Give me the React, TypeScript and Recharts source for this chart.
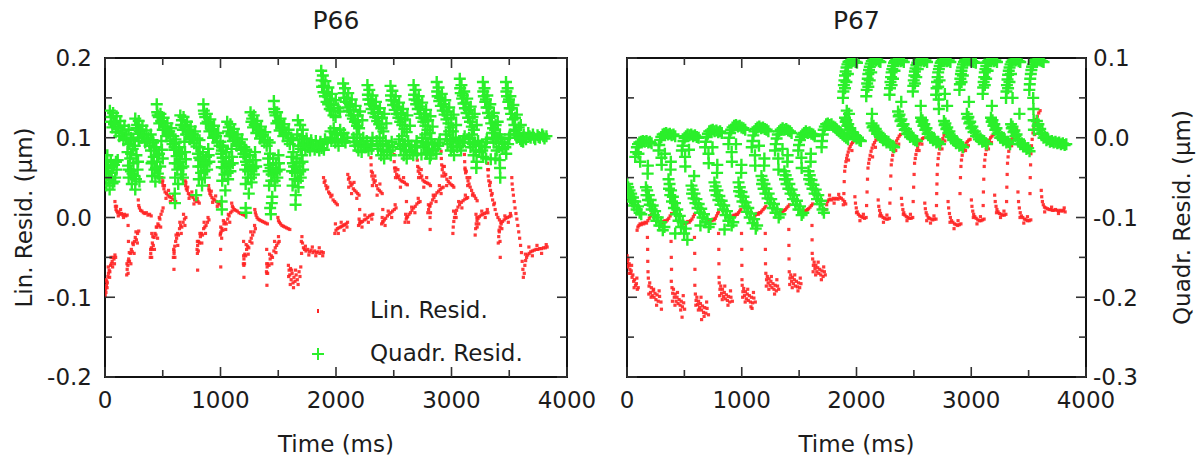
import React from "react";
import { ScatterChart, Scatter, XAxis, YAxis, ReferenceArea, Label } from "recharts";

type Pt = [number, number];

// axis ticks (minor every 500 ms / 0.05 um, labels on the majors)
const TIME_TICKS = [0, 500, 1000, 1500, 2000, 2500, 3000, 3500, 4000];
const LIN_TICKS = [-0.2, -0.15, -0.1, -0.05, 0, 0.05, 0.1, 0.15, 0.2];
const QUAD_TICKS = [-0.3, -0.25, -0.2, -0.15, -0.1, -0.05, 0, 0.05, 0.1];

// P66, linear fit residuals (red dots)
const P66_LIN: Pt[] = [
  [2,-0.098],[5,-0.09],[8,-0.094],[12,-0.085],[15,-0.08],[20,-0.082],[25,-0.074],[30,-0.07],[36,-0.066],[42,-0.068],[48,-0.06],[55,-0.058],[62,-0.055],[70,-0.05],[78,-0.052],[86,-0.047],[92,-0.05],
  [4,-0.088],[10,-0.078],[18,-0.088],[28,-0.062],[40,-0.075],[52,-0.05],[66,-0.062],[82,-0.058],
  [86,0.02],[90,0.014],[95,0.01],[102,0.008],[110,0.006],[120,0.007],[130,0.004],[142,0.005],[155,0.003],[168,0.004],[180,0.002],[192,0.003],
  [100,0.014],[115,0.002],[135,0.01],[160,0.0],
  [200,-0.01],[203,-0.03],[201,-0.055],
  [188,-0.072],[192,-0.065],[198,-0.06],[205,-0.052],[212,-0.055],[220,-0.045],[228,-0.04],[236,-0.043],[245,-0.034],[255,-0.03],[262,-0.025],[272,-0.028],[282,-0.02],[292,-0.017],
  [190,-0.058],[200,-0.07],[210,-0.044],[224,-0.058],[240,-0.032],[252,-0.045],[268,-0.018],[280,-0.032],
  [288,0.022],[292,0.015],[298,0.012],[308,0.009],[320,0.008],[332,0.006],[345,0.005],[358,0.006],[372,0.003],[386,0.004],[400,0.002],
  [405,-0.02],[407,-0.04],
  [392,-0.05],[396,-0.045],[402,-0.038],[410,-0.032],[418,-0.035],[425,-0.025],[433,-0.02],[441,-0.022],[450,-0.012],[458,-0.008],[466,-0.01],[475,-0.002],[485,0.004],[495,0.008],[503,0.012],
  [395,-0.04],[404,-0.05],[414,-0.024],[428,-0.04],[444,-0.012],[455,-0.026],[470,0.0],[482,-0.012],
  [492,0.05],[496,0.044],[502,0.04],[510,0.036],[520,0.032],[532,0.03],[545,0.028],[558,0.026],[572,0.025],[588,0.023],[602,0.022],[612,0.02],
  [500,0.046],[515,0.04],[528,0.024],[550,0.034],[566,0.02],[595,0.028],
  [598,-0.045],[597,-0.065],
  [592,-0.05],[598,-0.042],[604,-0.036],[612,-0.03],[620,-0.026],[628,-0.02],[636,-0.022],[645,-0.014],[655,-0.01],[665,-0.012],[676,-0.006],[688,-0.002],[700,0.0],
  [595,-0.04],[605,-0.05],[615,-0.022],[630,-0.035],[648,-0.006],[660,-0.02],[680,0.004],[692,-0.01],
  [694,0.046],[698,0.04],[704,0.036],[712,0.034],[722,0.03],[735,0.028],[748,0.027],[762,0.025],[776,0.022],[790,0.02],[805,0.02],[816,0.018],
  [700,0.044],[716,0.038],[728,0.024],[752,0.032],[770,0.017],[798,0.024],
  [800,-0.045],[802,-0.066],
  [797,-0.04],[802,-0.035],[810,-0.03],[818,-0.032],[826,-0.024],[835,-0.02],[844,-0.022],[854,-0.014],[864,-0.012],[875,-0.01],[887,-0.006],[900,-0.003],
  [800,-0.03],[808,-0.042],[822,-0.02],[838,-0.032],[858,-0.006],[870,-0.02],[892,0.0],
  [897,0.04],[902,0.034],[908,0.03],[916,0.028],[926,0.025],[938,0.023],[950,0.022],[964,0.02],[978,0.018],[992,0.017],[1006,0.015],
  [900,0.036],[920,0.033],[932,0.019],[958,0.027],[972,0.014],[1000,0.02],
  [1000,-0.02],[1001,-0.04],[1002,-0.062],
  [998,-0.022],[1005,-0.018],[1012,-0.014],[1020,-0.016],[1030,-0.008],[1040,-0.006],[1050,-0.008],[1062,-0.002],[1075,0.002],[1088,0.006],[1100,0.008],
  [1002,-0.012],[1010,-0.026],[1025,-0.004],[1045,-0.015],[1068,0.004],[1080,-0.006],
  [1097,0.018],[1103,0.014],[1110,0.012],[1120,0.01],[1132,0.009],[1145,0.008],[1160,0.006],[1175,0.005],[1190,0.004],[1205,0.003],[1218,0.002],
  [1200,-0.03],[1202,-0.06],[1203,-0.075],
  [1198,-0.058],[1203,-0.052],[1210,-0.046],[1218,-0.048],[1226,-0.04],[1235,-0.036],[1245,-0.038],[1255,-0.03],[1266,-0.026],[1278,-0.022],[1290,-0.018],[1302,-0.014],
  [1200,-0.048],[1208,-0.058],[1222,-0.034],[1240,-0.046],[1262,-0.018],[1272,-0.032],[1295,-0.01],
  [1297,0.01],[1302,0.006],[1308,0.003],[1316,0.0],[1326,-0.002],[1338,-0.003],[1350,-0.004],[1364,-0.005],[1378,-0.006],[1392,-0.007],[1406,-0.008],
  [1400,-0.04],[1401,-0.07],[1402,-0.085],
  [1398,-0.068],[1404,-0.062],[1411,-0.058],[1420,-0.06],[1430,-0.052],[1440,-0.048],[1450,-0.05],[1462,-0.042],[1474,-0.038],[1486,-0.035],[1498,-0.032],[1508,-0.03],
  [1400,-0.058],[1408,-0.07],[1425,-0.046],[1444,-0.058],[1468,-0.03],[1480,-0.044],[1502,-0.024],
  [1497,0.0],[1502,-0.004],[1510,-0.006],[1520,-0.008],[1532,-0.01],[1545,-0.011],[1558,-0.012],[1572,-0.013],[1586,-0.014],[1600,-0.015],
  [1588,-0.06],[1594,-0.066],[1600,-0.072],[1606,-0.064],[1612,-0.078],[1620,-0.07],[1628,-0.082],[1636,-0.075],[1645,-0.08],[1655,-0.072],[1665,-0.078],[1680,-0.068],[1695,-0.062],
  [1590,-0.074],[1604,-0.084],[1616,-0.066],[1632,-0.088],[1650,-0.066],[1672,-0.084],[1688,-0.074],
  [1700,-0.03],[1702,-0.045],
  [1705,-0.024],[1710,-0.032],[1718,-0.038],[1728,-0.04],[1740,-0.042],[1755,-0.04],[1770,-0.043],[1785,-0.041],[1800,-0.044],[1815,-0.042],[1830,-0.044],[1845,-0.043],[1860,-0.045],[1875,-0.043],[1890,-0.044],
  [1735,-0.036],[1765,-0.047],[1795,-0.037],[1825,-0.048],[1855,-0.038],[1885,-0.048],
  [1892,0.05],[1898,0.044],[1905,0.046],[1912,0.04],[1920,0.036],[1928,0.038],[1936,0.032],[1945,0.03],[1955,0.026],[1965,0.028],[1975,0.022],[1988,0.02],[2000,0.018],[2012,0.016],
  [1990,-0.02],[2000,-0.016],[2012,-0.014],[2025,-0.013],[2038,-0.012],[2050,-0.011],[2062,-0.01],[2075,-0.009],[2088,-0.008],[2100,-0.006],
  [1995,-0.008],[2020,-0.02],[2045,-0.006],[2070,-0.016],[2095,-0.012],
  [2102,0.054],[2108,0.048],[2115,0.05],[2122,0.044],[2130,0.04],[2140,0.042],[2150,0.036],[2162,0.034],[2175,0.032],[2188,0.03],[2200,0.028],
  [2110,0.038],[2135,0.03],[2156,0.044],[2180,0.024],
  [2205,0.01],[2207,-0.005],
  [2195,-0.01],[2205,-0.008],[2218,-0.006],[2230,-0.005],[2245,-0.003],[2260,-0.002],[2275,0.0],[2290,0.002],[2305,0.003],[2318,0.004],
  [2200,-0.002],[2225,-0.012],[2250,0.003],[2280,-0.006],[2310,-0.002],
  [2302,0.075],[2304,0.066],[2306,0.058],[2310,0.052],[2316,0.056],[2322,0.048],[2330,0.044],[2340,0.046],[2350,0.04],[2362,0.036],[2375,0.034],[2388,0.032],[2400,0.03],
  [2315,0.04],[2336,0.052],[2356,0.028],[2380,0.042],
  [2405,0.01],[2406,-0.005],
  [2395,-0.008],[2405,-0.006],[2418,-0.003],[2430,-0.001],[2445,0.002],[2460,0.004],[2475,0.006],[2490,0.008],[2505,0.01],[2520,0.012],
  [2400,0.0],[2425,-0.01],[2452,0.008],[2482,0.0],[2512,0.016],
  [2502,0.079],[2504,0.07],[2507,0.062],[2512,0.058],[2518,0.062],[2525,0.054],[2533,0.05],[2542,0.052],[2552,0.048],[2564,0.046],[2578,0.045],[2592,0.044],[2606,0.042],[2618,0.041],
  [2515,0.05],[2536,0.06],[2558,0.038],[2585,0.05],
  [2610,0.02],[2612,0.0],
  [2598,-0.006],[2608,-0.002],[2620,0.001],[2632,0.004],[2645,0.006],[2658,0.009],[2672,0.012],[2686,0.014],[2700,0.017],[2715,0.019],[2728,0.02],
  [2603,0.004],[2628,-0.006],[2655,0.013],[2683,0.006],[2712,0.024],
  [2702,0.08],[2704,0.072],[2707,0.064],[2712,0.058],[2718,0.062],[2725,0.055],[2733,0.05],[2742,0.052],[2752,0.047],[2764,0.045],[2778,0.044],[2792,0.043],[2806,0.042],[2818,0.04],
  [2715,0.05],[2738,0.06],[2760,0.038],[2785,0.05],
  [2812,0.015],[2814,0.0],[2815,-0.015],
  [2795,0.006],[2802,0.01],[2812,0.014],[2824,0.018],[2836,0.022],[2848,0.025],[2860,0.028],[2874,0.031],[2888,0.033],[2902,0.035],[2916,0.037],[2928,0.038],
  [2800,0.016],[2818,0.006],[2842,0.028],[2866,0.02],[2895,0.04],[2910,0.03],
  [2910,0.083],[2912,0.074],[2915,0.066],[2920,0.06],[2926,0.064],[2933,0.056],[2941,0.052],[2950,0.054],[2960,0.048],[2972,0.045],[2985,0.043],[2998,0.041],[3010,0.04],[3020,0.038],
  [2918,0.052],[2938,0.064],[2958,0.04],[2990,0.05],
  [3012,-0.02],[3015,-0.012],[3020,-0.005],[3026,0.0],[3034,0.005],[3044,0.009],[3056,0.013],[3070,0.016],[3085,0.019],[3100,0.021],[3115,0.023],[3130,0.024],[3140,0.025],
  [3018,0.008],[3040,0.0],[3062,0.02],[3090,0.012],[3120,0.028],
  [3112,0.079],[3114,0.07],[3117,0.062],[3122,0.056],[3128,0.058],[3135,0.05],[3143,0.046],[3152,0.042],[3162,0.038],[3174,0.034],[3186,0.03],[3198,0.027],[3210,0.024],[3222,0.021],
  [3118,0.06],[3140,0.04],[3158,0.05],[3182,0.028],
  [3220,0.0],[3222,-0.012],
  [3205,-0.022],[3209,-0.014],[3214,-0.008],[3221,-0.004],[3230,-0.001],[3242,0.001],[3256,0.003],[3270,0.004],[3285,0.005],[3300,0.006],[3315,0.006],
  [3212,0.004],[3236,-0.008],[3262,0.008],[3292,0.0],[3310,0.01],
  [3312,0.068],[3314,0.06],[3318,0.052],[3323,0.046],[3330,0.04],[3338,0.034],[3346,0.028],[3356,0.022],[3366,0.016],[3378,0.01],[3390,0.004],[3402,0.0],[3415,-0.003],[3428,-0.006],
  [3320,0.06],[3336,0.044],[3352,0.03],[3372,0.018],
  [3420,-0.03],[3422,-0.05],
  [3405,-0.032],[3409,-0.024],[3414,-0.018],[3421,-0.012],[3430,-0.008],[3442,-0.005],[3456,-0.003],[3470,-0.001],[3485,0.0],[3500,0.001],[3515,0.002],
  [3412,-0.016],[3436,-0.014],[3462,0.002],[3492,-0.006],[3510,0.005],
  [3522,0.05],[3525,0.042],[3530,0.035],[3536,0.028],[3543,0.02],[3550,0.012],[3558,0.005],[3566,-0.002],[3574,-0.01],[3582,-0.018],[3590,-0.026],[3598,-0.035],[3606,-0.044],[3612,-0.055],[3618,-0.065],[3622,-0.075],
  [3630,-0.07],[3635,-0.06],[3642,-0.054],[3650,-0.05],[3660,-0.047],[3672,-0.045],[3686,-0.043],[3700,-0.042],[3716,-0.041],[3732,-0.04],[3748,-0.04],[3764,-0.039],[3780,-0.039],[3796,-0.038],[3812,-0.038],[3828,-0.037],
  [3640,-0.046],[3670,-0.037],[3700,-0.048],[3740,-0.035],[3780,-0.045],[3820,-0.034],
];

// P66, quadratic fit residuals (green crosses)
const P66_QUAD: Pt[] = [
  [42,0.134],[58,0.126],[70,0.131],[86,0.12],[100,0.127],[116,0.114],[132,0.121],[150,0.109],[168,0.115],[186,0.104],[205,0.11],[225,0.1],[245,0.097],
  [50,0.12],[64,0.113],[78,0.117],[92,0.107],[108,0.112],[124,0.102],[142,0.106],[160,0.097],[180,0.1],[200,0.092],
  [262,0.124],[278,0.116],[292,0.121],[308,0.11],[324,0.115],[340,0.104],[358,0.109],[376,0.1],[396,0.104],[412,0.097],
  [270,0.112],[286,0.105],[300,0.108],[316,0.1],[332,0.103],[348,0.094],[366,0.097],[386,0.09],
  [448,0.142],[452,0.132],[466,0.126],[480,0.13],[494,0.12],[508,0.125],[524,0.114],[540,0.118],[556,0.108],[574,0.112],[592,0.102],[610,0.098],
  [456,0.128],[470,0.118],[486,0.121],[500,0.11],[516,0.113],[532,0.102],[548,0.105],[566,0.096],[584,0.092],[602,0.088],
  [652,0.128],[666,0.122],[680,0.126],[694,0.116],[710,0.12],[726,0.11],[742,0.114],[760,0.104],[780,0.108],[800,0.099],[818,0.097],
  [660,0.116],[674,0.11],[688,0.113],[702,0.104],[718,0.107],[734,0.098],[752,0.1],[772,0.093],[792,0.089],
  [852,0.142],[856,0.134],[868,0.126],[882,0.13],[896,0.118],[912,0.123],[928,0.11],[944,0.115],[962,0.102],[980,0.106],[1000,0.095],[1020,0.09],
  [860,0.13],[874,0.118],[888,0.12],[904,0.108],[920,0.111],[936,0.1],[954,0.103],[972,0.094],[992,0.09],[1012,0.084],
  [1058,0.12],[1072,0.113],[1086,0.117],[1100,0.107],[1116,0.111],[1132,0.1],[1148,0.104],[1166,0.094],[1186,0.098],[1206,0.088],[1222,0.085],
  [1066,0.108],[1080,0.102],[1094,0.105],[1108,0.096],[1124,0.099],[1140,0.09],[1158,0.092],[1178,0.085],[1198,0.08],
  [1260,0.132],[1274,0.124],[1288,0.128],[1302,0.117],[1318,0.121],[1334,0.11],[1350,0.114],[1368,0.104],[1388,0.107],[1408,0.097],[1426,0.094],
  [1268,0.12],[1282,0.113],[1296,0.116],[1310,0.106],[1326,0.109],[1342,0.099],[1360,0.102],[1380,0.094],[1400,0.09],
  [1462,0.146],[1465,0.136],[1476,0.128],[1490,0.132],[1504,0.12],[1520,0.124],[1536,0.113],[1552,0.117],[1570,0.106],[1590,0.11],[1610,0.1],[1628,0.097],
  [1470,0.132],[1484,0.118],[1498,0.121],[1512,0.109],[1528,0.112],[1544,0.102],[1562,0.105],[1580,0.096],[1600,0.092],
  [1670,0.122],[1690,0.116],[1712,0.11],
  [1665,0.104],[1685,0.098],[1705,0.102],[1725,0.094],[1745,0.099],[1765,0.092],[1785,0.097],[1805,0.091],[1825,0.096],[1845,0.09],[1865,0.095],[1885,0.092],[1905,0.098],[1925,0.094],
  [1675,0.09],[1695,0.086],[1715,0.091],[1735,0.085],[1755,0.088],[1775,0.084],[1795,0.089],[1815,0.085],[1835,0.088],[1855,0.084],[1875,0.087],[1895,0.085],
  [3,0.07],[8,0.055],[12,0.04],[20,0.078],[26,0.062],[32,0.047],[40,0.035],[50,0.072],[58,0.056],[66,0.043],[78,0.066],[88,0.05],[100,0.06],[110,0.072],
  [15,0.065],[30,0.058],[45,0.05],[62,0.064],[80,0.045],[95,0.07],
  [195,0.082],[200,0.065],[205,0.05],[212,0.092],[218,0.074],[224,0.058],[232,0.042],[240,0.086],[246,0.068],[254,0.052],[262,0.035],[272,0.078],[282,0.06],[292,0.096],[298,0.045],
  [208,0.06],[226,0.08],[238,0.055],[258,0.09],[268,0.048],[286,0.07],
  [398,0.084],[403,0.068],[408,0.052],[416,0.094],[422,0.076],[428,0.06],[436,0.045],[444,0.088],[450,0.07],[458,0.055],[468,0.08],[478,0.064],[488,0.096],[500,0.074],
  [411,0.07],[426,0.088],[441,0.062],[460,0.078],[472,0.05],[493,0.085],
  [600,0.085],[604,0.068],[608,0.05],[614,0.094],[620,0.077],[626,0.06],[634,0.042],[642,0.088],[650,0.07],[658,0.054],[668,0.082],[678,0.064],[688,0.095],[700,0.073],[604,0.03],[606,0.018],
  [616,0.085],[630,0.068],[645,0.08],[662,0.062],[675,0.05],[693,0.082],
  [804,0.08],[808,0.064],[812,0.048],[820,0.088],[826,0.072],[832,0.056],[840,0.04],[848,0.082],[856,0.066],[864,0.05],[874,0.076],[884,0.06],[894,0.086],[904,0.07],[790,0.028],
  [816,0.075],[834,0.064],[846,0.072],[860,0.058],[878,0.068],[898,0.078],
  [1007,0.08],[1011,0.063],[1015,0.046],[1022,0.088],[1028,0.07],[1034,0.054],[1042,0.034],[1050,0.082],[1058,0.064],[1066,0.048],[1076,0.076],[1086,0.058],[1096,0.086],[1106,0.068],[1010,0.02],[1012,0.01],
  [1018,0.075],[1036,0.062],[1048,0.07],[1062,0.056],[1080,0.066],[1100,0.076],
  [1210,0.076],[1214,0.06],[1218,0.042],[1225,0.083],[1231,0.066],[1237,0.05],[1245,0.03],[1253,0.078],[1261,0.06],[1269,0.044],[1279,0.072],[1289,0.054],[1299,0.082],[1309,0.064],[1218,0.012],[1222,0.006],
  [1221,0.07],[1240,0.058],[1250,0.066],[1264,0.05],[1283,0.062],[1303,0.072],
  [1413,0.074],[1417,0.058],[1421,0.04],[1428,0.08],[1434,0.062],[1440,0.046],[1448,0.026],[1456,0.074],[1464,0.056],[1472,0.04],[1482,0.068],[1492,0.05],[1502,0.078],[1512,0.06],[1430,0.012],[1436,0.004],[1444,0.018],
  [1424,0.066],[1443,0.054],[1452,0.062],[1468,0.046],[1486,0.058],[1506,0.068],
  [1616,0.076],[1620,0.058],[1624,0.04],[1631,0.082],[1637,0.064],[1643,0.048],[1651,0.028],[1659,0.074],[1667,0.056],[1675,0.038],[1685,0.068],[1695,0.05],[1705,0.078],[1715,0.06],[1650,0.016],
  [1627,0.068],[1646,0.056],[1655,0.064],[1670,0.046],[1690,0.058],[1710,0.07],
  [1872,0.184],[1876,0.172],[1886,0.178],[1896,0.165],[1908,0.171],[1920,0.157],[1934,0.163],[1948,0.149],[1964,0.155],[1980,0.141],[1998,0.147],[2016,0.137],[2034,0.133],
  [1880,0.164],[1892,0.157],[1904,0.152],[1918,0.145],[1932,0.142],[1946,0.136],[1962,0.134],[1978,0.128],[1996,0.126],
  [2062,0.168],[2066,0.156],[2078,0.162],[2092,0.15],[2106,0.156],[2120,0.142],[2136,0.148],[2152,0.135],[2170,0.14],[2188,0.128],[2208,0.133],[2228,0.122],
  [2070,0.15],[2084,0.145],[2098,0.138],[2114,0.134],[2130,0.128],[2146,0.124],[2164,0.12],[2182,0.115],[2200,0.112],
  [2272,0.166],[2276,0.154],[2288,0.16],[2302,0.148],[2316,0.153],[2330,0.14],[2346,0.145],[2362,0.132],[2380,0.137],[2398,0.125],[2418,0.13],[2436,0.118],
  [2280,0.148],[2294,0.142],[2308,0.136],[2324,0.131],[2340,0.126],[2356,0.121],[2374,0.117],[2392,0.112],[2410,0.108],
  [2472,0.165],[2476,0.153],[2488,0.159],[2502,0.147],[2516,0.152],[2530,0.139],[2546,0.144],[2562,0.131],[2580,0.136],[2598,0.123],[2618,0.128],[2640,0.115],
  [2480,0.147],[2494,0.141],[2508,0.135],[2524,0.13],[2540,0.125],[2556,0.12],[2574,0.116],[2592,0.111],[2612,0.107],
  [2672,0.166],[2676,0.154],[2688,0.16],[2702,0.147],[2716,0.152],[2730,0.139],[2746,0.144],[2762,0.13],[2780,0.135],[2798,0.122],[2818,0.127],[2836,0.114],
  [2680,0.148],[2694,0.142],[2708,0.136],[2724,0.13],[2740,0.125],[2756,0.12],[2774,0.115],[2792,0.11],[2812,0.106],
  [2872,0.17],[2876,0.158],[2888,0.163],[2902,0.15],[2916,0.155],[2930,0.142],[2946,0.147],[2962,0.133],[2980,0.138],[2998,0.125],[3018,0.129],[3040,0.116],
  [2880,0.152],[2894,0.146],[2908,0.14],[2924,0.134],[2940,0.129],[2956,0.123],[2974,0.118],[2992,0.113],[3012,0.108],
  [3072,0.174],[3075,0.162],[3086,0.166],[3098,0.153],[3110,0.158],[3122,0.144],[3136,0.149],[3150,0.135],[3166,0.139],[3182,0.126],[3200,0.13],[3218,0.116],
  [3080,0.156],[3092,0.149],[3104,0.143],[3116,0.137],[3130,0.131],[3144,0.125],[3160,0.12],[3176,0.114],[3194,0.11],
  [3272,0.17],[3275,0.158],[3286,0.162],[3298,0.148],[3310,0.153],[3322,0.138],[3336,0.142],[3350,0.127],[3366,0.131],[3382,0.116],[3400,0.12],[3418,0.104],
  [3280,0.152],[3292,0.145],[3304,0.138],[3316,0.131],[3330,0.125],[3344,0.118],[3360,0.112],[3376,0.106],[3394,0.1],
  [3472,0.17],[3475,0.158],[3486,0.162],[3498,0.148],[3510,0.152],[3522,0.137],[3536,0.141],[3550,0.125],[3566,0.129],[3582,0.113],[3600,0.116],[3616,0.1],[3620,0.095],
  [3480,0.152],[3492,0.145],[3504,0.137],[3516,0.13],[3530,0.123],[3544,0.116],[3560,0.11],[3576,0.104],[3594,0.098],
  [1952,0.108],[1966,0.1],[1980,0.112],[1994,0.094],[2008,0.104],[2022,0.09],[2036,0.11],[2050,0.098],[2066,0.106],[2082,0.094],[2098,0.1],
  [1960,0.096],[1988,0.106],[2015,0.098],[2044,0.104],[2074,0.096],
  [2152,0.1],[2166,0.09],[2180,0.104],[2194,0.084],[2208,0.096],[2222,0.082],[2236,0.1],[2250,0.088],[2266,0.096],[2282,0.084],[2300,0.092],[2316,0.1],
  [2160,0.095],[2188,0.09],[2215,0.092],[2244,0.09],[2274,0.09],[2308,0.086],
  [2352,0.096],[2365,0.086],[2378,0.1],[2391,0.078],[2404,0.092],[2417,0.074],[2430,0.096],[2443,0.082],[2458,0.09],[2474,0.078],[2490,0.088],
  [2360,0.09],[2385,0.09],[2410,0.084],[2437,0.09],[2466,0.084],[2482,0.095],
  [2547,0.098],[2560,0.086],[2573,0.102],[2586,0.078],[2599,0.092],[2612,0.074],[2625,0.096],[2638,0.082],[2653,0.09],[2669,0.078],[2685,0.088],[2698,0.096],
  [2553,0.092],[2580,0.09],[2606,0.084],[2632,0.09],[2660,0.084],[2692,0.09],
  [2747,0.1],[2760,0.088],[2773,0.104],[2786,0.08],[2799,0.094],[2812,0.074],[2825,0.098],[2838,0.084],[2853,0.092],[2869,0.08],[2885,0.09],[2898,0.098],
  [2753,0.094],[2780,0.092],[2806,0.086],[2832,0.092],[2861,0.086],[2892,0.094],
  [2952,0.104],[2966,0.092],[2980,0.108],[2994,0.084],[3008,0.098],[3022,0.078],[3036,0.1],[3050,0.088],[3066,0.096],[3082,0.084],[3098,0.094],[3114,0.102],
  [2959,0.098],[2987,0.096],[3015,0.088],[3043,0.094],[3074,0.09],[3106,0.098],
  [3152,0.1],[3165,0.088],[3178,0.104],[3191,0.078],[3204,0.094],[3217,0.07],[3230,0.096],[3243,0.082],[3258,0.09],[3274,0.076],[3290,0.088],[3306,0.098],[3215,0.062],
  [3158,0.094],[3185,0.092],[3210,0.084],[3237,0.09],[3266,0.084],[3298,0.094],
  [3352,0.106],[3365,0.094],[3378,0.11],[3391,0.084],[3404,0.1],[3417,0.072],[3420,0.062],[3430,0.098],[3443,0.086],[3458,0.094],[3474,0.08],[3490,0.092],[3506,0.104],[3422,0.05],
  [3358,0.1],[3385,0.098],[3410,0.088],[3437,0.094],[3466,0.088],[3498,0.1],
  [3545,0.108],[3565,0.1],[3585,0.106],[3605,0.096],[3625,0.104],[3645,0.098],[3665,0.106],[3685,0.1],[3705,0.104],[3725,0.098],[3745,0.103],[3765,0.1],[3785,0.104],[3805,0.099],[3822,0.102],
  [3555,0.104],[3595,0.1],[3635,0.1],[3675,0.102],[3715,0.1],[3755,0.101],[3795,0.102],
  [2700,0.08],[2740,0.079],[2780,0.08],[2820,0.078],[3300,0.074],[3340,0.073],[3380,0.074],
];

// P67, linear fit residuals (red dots)
const P67_LIN: Pt[] = [
  [1,-0.148],[5,-0.155],[9,-0.152],[14,-0.16],[19,-0.158],[25,-0.165],[31,-0.17],[37,-0.167],[44,-0.175],[51,-0.172],[58,-0.18],[66,-0.178],[74,-0.185],[82,-0.183],[90,-0.19],[98,-0.188],
  [6,-0.162],[20,-0.17],[40,-0.16],[62,-0.188],[86,-0.176],
  [88,-0.116],[95,-0.112],[104,-0.11],[114,-0.108],[124,-0.109],[134,-0.107],[146,-0.108],[158,-0.106],[170,-0.107],[182,-0.104],[194,-0.101],[204,-0.098],[212,-0.096],
  [178,-0.125],[180,-0.14],[181,-0.155],[183,-0.168],
  [186,-0.176],[192,-0.186],[198,-0.182],[205,-0.194],[212,-0.188],[220,-0.198],[228,-0.192],[236,-0.2],[244,-0.195],[252,-0.203],[262,-0.197],[272,-0.205],[284,-0.199],[296,-0.206],[300,-0.215],
  [190,-0.196],[210,-0.2],[232,-0.19],[258,-0.21],[280,-0.192],
  [292,-0.11],[300,-0.107],[310,-0.105],[320,-0.106],[330,-0.104],[340,-0.105],[352,-0.103],[364,-0.101],[376,-0.098],[388,-0.095],
  [384,-0.13],[386,-0.15],[388,-0.165],[386,-0.18],
  [392,-0.188],[398,-0.195],[405,-0.19],[412,-0.2],[420,-0.196],[428,-0.205],[436,-0.2],[445,-0.208],[454,-0.203],[463,-0.21],[473,-0.205],[483,-0.212],[494,-0.207],[502,-0.215],[480,-0.225],
  [396,-0.205],[418,-0.21],[440,-0.194],[468,-0.216],[490,-0.198],
  [500,-0.108],[510,-0.106],[520,-0.107],[530,-0.105],[542,-0.106],[554,-0.104],[566,-0.102],[578,-0.099],[588,-0.096],
  [588,-0.125],[590,-0.145],[592,-0.165],[591,-0.185],
  [596,-0.196],[602,-0.204],[609,-0.2],[616,-0.209],[624,-0.205],[632,-0.213],[640,-0.208],[649,-0.216],[658,-0.211],[667,-0.219],[677,-0.213],[687,-0.22],[698,-0.214],[710,-0.222],[650,-0.228],
  [600,-0.21],[622,-0.216],[645,-0.2],[672,-0.224],[694,-0.206],
  [712,-0.106],[720,-0.104],[730,-0.103],[740,-0.104],[750,-0.102],[760,-0.103],[770,-0.101],[780,-0.098],[790,-0.095],[798,-0.093],
  [798,-0.12],[800,-0.14],[801,-0.158],[802,-0.175],
  [804,-0.182],[810,-0.19],[817,-0.186],[824,-0.195],[832,-0.19],[840,-0.199],[848,-0.194],[857,-0.202],[866,-0.197],[875,-0.204],[885,-0.199],[895,-0.206],[906,-0.2],[918,-0.205],
  [808,-0.198],[830,-0.203],[852,-0.186],[880,-0.21],[902,-0.192],
  [915,-0.1],[922,-0.098],[932,-0.097],[942,-0.098],[952,-0.096],[962,-0.096],[972,-0.094],[982,-0.092],[992,-0.09],
  [998,-0.12],[1000,-0.14],[1001,-0.16],[1002,-0.178],
  [1004,-0.185],[1010,-0.193],[1017,-0.189],[1024,-0.198],[1032,-0.193],[1040,-0.202],[1048,-0.196],[1057,-0.204],[1066,-0.198],[1075,-0.206],[1085,-0.2],[1095,-0.207],[1106,-0.201],[1118,-0.206],[1090,-0.214],
  [1008,-0.2],[1030,-0.206],[1052,-0.19],[1080,-0.212],[1102,-0.194],
  [1115,-0.098],[1124,-0.096],[1134,-0.095],[1144,-0.096],[1154,-0.094],[1164,-0.094],[1174,-0.092],[1186,-0.09],[1198,-0.088],[1210,-0.086],
  [1205,-0.12],[1206,-0.14],[1207,-0.158],
  [1210,-0.17],[1216,-0.178],[1223,-0.174],[1230,-0.182],[1238,-0.177],[1246,-0.185],[1254,-0.18],[1263,-0.188],[1272,-0.183],[1281,-0.19],[1291,-0.185],[1301,-0.192],[1312,-0.186],[1322,-0.19],
  [1214,-0.186],[1236,-0.19],[1258,-0.174],[1286,-0.196],[1306,-0.178],
  [1322,-0.095],[1330,-0.094],[1340,-0.093],[1350,-0.093],[1360,-0.092],[1370,-0.091],[1380,-0.09],[1392,-0.088],[1404,-0.086],[1416,-0.084],
  [1410,-0.115],[1411,-0.135],[1412,-0.152],
  [1414,-0.168],[1420,-0.176],[1427,-0.172],[1434,-0.18],[1442,-0.175],[1450,-0.183],[1458,-0.178],[1467,-0.186],[1476,-0.18],[1485,-0.187],[1495,-0.182],[1505,-0.188],[1516,-0.183],
  [1418,-0.184],[1440,-0.188],[1462,-0.172],[1490,-0.192],[1510,-0.176],
  [1525,-0.094],[1533,-0.093],[1543,-0.092],[1553,-0.092],[1563,-0.091],[1573,-0.09],[1583,-0.089],[1595,-0.087],[1607,-0.085],[1618,-0.083],
  [1612,-0.11],[1613,-0.128],[1614,-0.145],
  [1618,-0.152],[1624,-0.16],[1631,-0.156],[1638,-0.164],[1646,-0.16],[1654,-0.168],[1662,-0.163],[1671,-0.17],[1680,-0.165],[1689,-0.172],[1699,-0.167],[1709,-0.174],[1720,-0.168],[1728,-0.172],
  [1622,-0.168],[1644,-0.172],[1666,-0.156],[1694,-0.178],[1714,-0.162],
  [1735,-0.09],[1740,-0.084],[1748,-0.08],[1758,-0.078],[1770,-0.077],[1784,-0.078],[1798,-0.076],[1812,-0.077],[1826,-0.076],[1840,-0.077],[1854,-0.075],[1868,-0.076],[1882,-0.078],[1896,-0.08],[1906,-0.083],
  [1765,-0.072],[1805,-0.082],[1845,-0.071],[1885,-0.084],
  [1890,-0.07],[1893,-0.055],[1897,-0.042],[1902,-0.036],[1908,-0.03],[1914,-0.026],[1920,-0.022],[1928,-0.018],[1936,-0.014],[1945,-0.011],[1955,-0.008],[1966,-0.006],[1978,-0.004],
  [1930,-0.028],[1960,-0.016],
  [1986,-0.074],[1991,-0.082],[1998,-0.088],[2006,-0.093],[2016,-0.096],[2028,-0.098],[2042,-0.099],[2056,-0.1],[2070,-0.101],[2084,-0.1],
  [2000,-0.094],[2030,-0.104],[2060,-0.096],
  [2088,-0.085],[2092,-0.068],[2096,-0.052],[2100,-0.038],[2106,-0.032],[2112,-0.027],[2119,-0.022],[2127,-0.017],[2136,-0.013],[2146,-0.009],[2157,-0.006],[2169,-0.003],[2181,-0.001],
  [2140,-0.024],[2165,-0.012],
  [2189,-0.078],[2194,-0.086],[2201,-0.091],[2209,-0.095],[2219,-0.098],[2231,-0.1],[2245,-0.101],[2259,-0.102],[2273,-0.102],[2287,-0.101],
  [2203,-0.098],[2235,-0.106],[2265,-0.097],
  [2291,-0.082],[2295,-0.064],[2299,-0.048],[2303,-0.034],[2309,-0.028],[2315,-0.022],[2322,-0.017],[2330,-0.012],[2339,-0.008],[2349,-0.004],[2360,-0.001],[2372,0.002],[2384,0.004],
  [2342,-0.016],[2368,-0.008],
  [2392,-0.076],[2397,-0.084],[2404,-0.09],[2412,-0.094],[2422,-0.097],[2434,-0.099],[2448,-0.1],[2462,-0.101],[2476,-0.101],[2490,-0.1],
  [2408,-0.096],[2440,-0.104],[2470,-0.096],
  [2494,-0.08],[2498,-0.062],[2502,-0.046],[2506,-0.032],[2512,-0.026],[2518,-0.021],[2525,-0.016],[2533,-0.012],[2542,-0.008],[2552,-0.005],[2563,-0.003],[2575,-0.001],[2587,0.0],
  [2545,-0.016],[2570,-0.008],
  [2595,-0.082],[2600,-0.089],[2607,-0.094],[2615,-0.097],[2625,-0.1],[2637,-0.101],[2651,-0.102],[2665,-0.103],[2679,-0.102],[2693,-0.102],
  [2612,-0.104],[2645,-0.107],[2675,-0.098],
  [2697,-0.085],[2699,-0.07],[2701,-0.058],[2703,-0.046],[2707,-0.034],[2712,-0.026],[2718,-0.02],[2725,-0.014],[2733,-0.009],[2742,-0.005],[2752,-0.001],[2763,0.003],[2775,0.006],[2787,0.009],
  [2745,-0.014],[2770,-0.004],
  [2798,-0.08],[2803,-0.088],[2810,-0.095],[2818,-0.1],[2828,-0.104],[2840,-0.106],[2854,-0.108],[2868,-0.109],[2882,-0.11],[2896,-0.109],[2910,-0.108],
  [2815,-0.106],[2850,-0.114],[2885,-0.104],
  [2902,-0.07],[2906,-0.05],[2910,-0.036],[2915,-0.028],[2921,-0.022],[2928,-0.017],[2936,-0.013],[2945,-0.01],[2955,-0.007],[2966,-0.005],[2978,-0.003],[2990,-0.002],
  [2950,-0.016],[2975,-0.01],
  [3001,-0.078],[3006,-0.086],[3013,-0.092],[3021,-0.096],[3031,-0.099],[3043,-0.101],[3057,-0.103],[3071,-0.104],[3085,-0.104],[3099,-0.103],[3112,-0.102],
  [3018,-0.1],[3050,-0.108],[3080,-0.099],
  [3104,-0.085],[3106,-0.068],[3109,-0.052],[3113,-0.036],[3118,-0.028],[3124,-0.021],[3131,-0.015],[3139,-0.01],[3148,-0.006],[3158,-0.003],[3169,0.0],[3181,0.002],[3193,0.004],
  [3150,-0.014],[3176,-0.006],
  [3204,-0.072],[3209,-0.08],[3216,-0.086],[3224,-0.09],[3234,-0.093],[3246,-0.095],[3260,-0.096],[3274,-0.097],[3288,-0.097],[3302,-0.096],
  [3220,-0.094],[3255,-0.1],[3285,-0.092],
  [3308,-0.08],[3310,-0.062],[3313,-0.046],[3316,-0.032],[3321,-0.024],[3327,-0.017],[3334,-0.011],[3342,-0.006],[3351,-0.002],[3361,0.002],[3372,0.005],[3384,0.008],[3396,0.01],
  [3352,-0.01],[3378,-0.002],
  [3407,-0.068],[3412,-0.08],[3419,-0.088],[3427,-0.094],[3437,-0.098],[3449,-0.1],[3463,-0.102],[3477,-0.103],[3491,-0.104],[3505,-0.104],[3519,-0.103],
  [3425,-0.1],[3458,-0.107],[3490,-0.099],
  [3512,-0.07],[3514,-0.05],[3517,-0.034],[3520,-0.02],[3525,-0.01],[3531,-0.002],[3538,0.006],[3546,0.012],[3555,0.018],[3565,0.023],[3576,0.027],[3588,0.031],[3600,0.034],
  [3552,0.004],[3580,0.02],
  [3610,-0.066],[3614,-0.074],[3620,-0.08],[3628,-0.084],[3638,-0.087],[3650,-0.088],[3664,-0.089],[3678,-0.09],[3692,-0.09],[3706,-0.091],[3720,-0.091],[3734,-0.09],[3748,-0.091],[3762,-0.092],[3776,-0.091],[3790,-0.092],[3804,-0.091],[3818,-0.093],
  [3640,-0.093],[3700,-0.087],[3760,-0.095],[3810,-0.088],
];

// P67, quadratic fit residuals (green crosses)
const P67_QUAD: Pt[] = [
  [72,-0.024],[78,-0.018],[86,-0.012],[96,-0.008],[108,-0.006],[122,-0.005],[138,-0.004],[154,-0.005],[170,-0.004],[186,-0.006],[200,-0.005],[214,-0.007],[100,-0.02],[115,-0.03],
  [275,-0.016],[281,-0.009],[289,-0.003],[299,0.001],[311,0.004],[325,0.005],[341,0.006],[357,0.004],[373,0.005],[389,0.003],[405,0.004],[420,0.002],[300,-0.025],[302,-0.034],[330,-0.02],
  [478,-0.016],[484,-0.01],[492,-0.004],[502,0.0],[514,0.002],[528,0.004],[544,0.003],[560,0.004],[576,0.002],[592,0.003],[608,0.001],[624,0.0],[506,-0.024],[508,-0.036],[540,-0.015],
  [681,-0.012],[687,-0.005],[695,0.001],[705,0.005],[717,0.008],[731,0.009],[747,0.01],[763,0.008],[779,0.009],[795,0.007],[811,0.008],[826,0.006],[710,-0.02],[712,-0.032],[745,-0.012],
  [884,-0.008],[890,0.0],[898,0.006],[908,0.01],[920,0.013],[934,0.015],[950,0.016],[966,0.014],[982,0.015],[998,0.013],[1014,0.012],[1030,0.01],[912,-0.018],[914,-0.03],[950,-0.008],
  [1087,-0.012],[1093,-0.004],[1101,0.003],[1111,0.008],[1123,0.011],[1137,0.013],[1153,0.014],[1169,0.012],[1185,0.013],[1201,0.011],[1217,0.01],[1232,0.008],[1115,-0.022],[1117,-0.035],[1150,-0.01],
  [1290,-0.016],[1296,-0.008],[1304,-0.001],[1314,0.004],[1326,0.008],[1340,0.01],[1356,0.012],[1372,0.01],[1388,0.011],[1404,0.009],[1420,0.008],[1434,0.006],[1318,-0.026],[1320,-0.04],[1355,-0.014],
  [1493,-0.016],[1499,-0.009],[1507,-0.003],[1517,0.001],[1529,0.004],[1543,0.006],[1559,0.008],[1575,0.006],[1591,0.007],[1607,0.005],[1623,0.004],[1636,0.002],[1520,-0.025],[1522,-0.038],
  [1696,-0.012],[1700,-0.004],[1706,0.004],[1714,0.01],[1724,0.014],[1736,0.017],[1750,0.018],[1766,0.016],[1782,0.017],[1798,0.014],[1814,0.013],[1830,0.01],[1846,0.008],[1862,0.006],[1878,0.004],[1894,0.002],[1910,0.0],[1926,-0.002],
  [2,-0.058],[6,-0.068],[10,-0.062],[16,-0.072],[22,-0.066],[28,-0.076],[36,-0.07],[44,-0.08],[52,-0.075],[62,-0.085],[72,-0.08],[84,-0.09],[96,-0.086],[110,-0.094],[124,-0.096],
  [165,-0.062],[170,-0.072],[176,-0.066],[183,-0.078],[190,-0.072],[198,-0.084],[206,-0.078],[215,-0.09],[224,-0.085],[234,-0.097],[245,-0.092],[256,-0.104],[268,-0.1],[282,-0.11],[296,-0.106],[312,-0.116],[326,-0.112],[180,-0.045],[182,-0.035],
  [362,-0.052],[366,-0.064],[371,-0.058],[377,-0.072],[384,-0.066],[392,-0.08],[400,-0.074],[409,-0.088],[418,-0.082],[428,-0.096],[438,-0.09],[449,-0.104],[460,-0.098],[472,-0.112],[485,-0.106],[498,-0.12],[512,-0.114],[526,-0.128],[380,-0.04],[382,-0.03],[420,-0.12],
  [562,-0.06],[567,-0.07],[573,-0.065],[580,-0.076],[588,-0.07],[596,-0.082],[605,-0.077],[615,-0.088],[625,-0.083],[636,-0.094],[647,-0.089],[659,-0.1],[671,-0.096],[684,-0.106],[698,-0.102],[712,-0.112],[726,-0.108],[585,-0.048],[640,-0.11],
  [762,-0.056],[767,-0.066],[773,-0.061],[780,-0.072],[788,-0.066],[796,-0.078],[805,-0.073],[815,-0.084],[825,-0.079],[836,-0.09],[847,-0.085],[859,-0.097],[871,-0.092],[884,-0.104],[898,-0.1],[912,-0.11],[926,-0.106],[785,-0.044],[787,-0.034],[850,-0.115],
  [972,-0.056],[977,-0.067],[983,-0.062],[990,-0.073],[998,-0.068],[1006,-0.08],[1015,-0.074],[1025,-0.086],[1035,-0.081],[1046,-0.093],[1057,-0.088],[1069,-0.1],[1081,-0.095],[1094,-0.107],[1108,-0.102],[1122,-0.114],[1134,-0.11],[995,-0.044],[997,-0.034],
  [1172,-0.048],[1177,-0.058],[1183,-0.053],[1190,-0.064],[1198,-0.058],[1206,-0.07],[1215,-0.064],[1225,-0.076],[1235,-0.07],[1246,-0.082],[1257,-0.077],[1269,-0.088],[1281,-0.083],[1294,-0.094],[1308,-0.09],[1322,-0.1],[1336,-0.096],[1195,-0.035],[1197,-0.026],
  [1372,-0.042],[1377,-0.052],[1383,-0.047],[1390,-0.058],[1398,-0.052],[1406,-0.064],[1415,-0.058],[1425,-0.07],[1435,-0.065],[1446,-0.077],[1457,-0.072],[1469,-0.084],[1481,-0.079],[1494,-0.09],[1508,-0.086],[1522,-0.097],[1536,-0.094],[1398,-0.03],[1400,-0.022],
  [1582,-0.042],[1587,-0.052],[1593,-0.047],[1600,-0.058],[1608,-0.053],[1616,-0.064],[1625,-0.059],[1635,-0.07],[1645,-0.065],[1656,-0.077],[1667,-0.072],[1679,-0.083],[1691,-0.079],[1704,-0.09],[1716,-0.094],[1600,-0.03],[1602,-0.02],
  [1882,0.05],[1886,0.058],[1890,0.066],[1895,0.072],[1900,0.078],[1906,0.083],[1913,0.088],[1921,0.092],[1930,0.095],[1940,0.096],[1952,0.097],[1965,0.096],[1978,0.097],[1992,0.095],[2004,0.094],[1900,0.062],[1912,0.07],[1925,0.08],
  [2085,0.052],[2089,0.06],[2093,0.068],[2098,0.074],[2103,0.08],[2109,0.085],[2116,0.089],[2124,0.093],[2133,0.096],[2143,0.097],[2155,0.098],[2168,0.097],[2181,0.098],[2195,0.096],[2208,0.095],[2103,0.064],[2115,0.072],[2128,0.082],
  [2288,0.054],[2292,0.062],[2296,0.07],[2301,0.076],[2306,0.082],[2312,0.086],[2319,0.09],[2327,0.094],[2336,0.096],[2346,0.098],[2358,0.097],[2371,0.098],[2384,0.096],[2398,0.097],[2412,0.095],[2306,0.066],[2318,0.074],[2331,0.084],
  [2491,0.058],[2495,0.065],[2499,0.072],[2504,0.078],[2509,0.083],[2515,0.087],[2522,0.091],[2530,0.094],[2539,0.097],[2549,0.098],[2561,0.097],[2574,0.098],[2587,0.096],[2601,0.097],[2615,0.095],[2509,0.068],[2521,0.076],[2534,0.086],
  [2694,0.054],[2698,0.062],[2702,0.07],[2707,0.076],[2712,0.082],[2718,0.086],[2725,0.09],[2733,0.094],[2742,0.096],[2752,0.098],[2764,0.097],[2777,0.098],[2790,0.096],[2804,0.097],[2818,0.095],[2712,0.064],[2716,0.048],[2718,0.036],[2724,0.072],
  [2897,0.06],[2901,0.067],[2905,0.074],[2910,0.08],[2915,0.084],[2921,0.088],[2928,0.092],[2936,0.095],[2945,0.097],[2955,0.098],[2967,0.097],[2980,0.098],[2993,0.097],[3007,0.096],[3021,0.095],[3040,0.094],[2915,0.07],[2927,0.078],
  [3100,0.055],[3104,0.063],[3108,0.07],[3113,0.076],[3118,0.082],[3124,0.086],[3131,0.09],[3139,0.094],[3148,0.096],[3158,0.098],[3170,0.097],[3183,0.098],[3196,0.096],[3210,0.097],[3224,0.095],[3118,0.066],[3130,0.074],[3143,0.084],
  [3303,0.05],[3307,0.058],[3311,0.066],[3316,0.073],[3321,0.079],[3327,0.084],[3334,0.088],[3342,0.092],[3351,0.095],[3361,0.097],[3373,0.098],[3386,0.097],[3399,0.098],[3413,0.096],[3427,0.095],[3321,0.062],[3333,0.07],[3346,0.08],
  [3506,0.06],[3510,0.067],[3514,0.074],[3519,0.08],[3524,0.085],[3530,0.089],[3537,0.092],[3545,0.095],[3554,0.097],[3564,0.098],[3576,0.097],[3589,0.098],[3602,0.097],[3616,0.096],[3630,0.095],[3540,0.05],[3542,0.036],[3544,0.022],[3546,0.01],
  [1900,0.025],[1906,0.02],[1912,0.022],[1920,0.015],[1928,0.017],[1937,0.01],[1946,0.012],[1956,0.006],[1966,0.007],[1977,0.002],[1988,0.003],[2000,-0.001],[2013,0.0],[2026,-0.003],[2038,-0.004],
  [2132,0.018],[2140,0.013],[2148,0.015],[2158,0.009],[2168,0.011],[2180,0.005],[2192,0.006],[2205,0.001],[2218,0.002],[2232,-0.003],[2246,-0.002],[2262,-0.006],[2278,-0.005],[2296,-0.009],[2314,-0.01],[2328,-0.012],
  [2362,0.033],[2368,0.027],[2375,0.029],[2383,0.021],[2391,0.023],[2400,0.015],[2410,0.017],[2420,0.01],[2431,0.011],[2442,0.005],[2454,0.006],[2467,0.001],[2481,0.002],[2496,-0.002],[2512,-0.003],[2528,-0.004],
  [2562,0.025],[2568,0.02],[2575,0.022],[2583,0.015],[2591,0.017],[2600,0.01],[2610,0.012],[2620,0.005],[2631,0.006],[2642,0.0],[2654,0.001],[2667,-0.003],[2681,-0.002],[2696,-0.006],[2712,-0.005],[2728,-0.008],
  [2762,0.021],[2768,0.016],[2775,0.018],[2783,0.011],[2791,0.013],[2800,0.006],[2810,0.008],[2820,0.001],[2831,0.002],[2842,-0.003],[2854,-0.002],[2867,-0.007],[2881,-0.006],[2896,-0.01],[2912,-0.009],[2928,-0.012],
  [2962,0.03],[2968,0.024],[2975,0.026],[2983,0.018],[2991,0.02],[3000,0.012],[3010,0.014],[3020,0.007],[3031,0.008],[3042,0.002],[3054,0.003],[3067,-0.002],[3081,-0.001],[3096,-0.005],[3112,-0.004],[3128,-0.007],[3138,-0.008],
  [3172,0.025],[3178,0.02],[3185,0.022],[3193,0.015],[3201,0.017],[3210,0.01],[3220,0.012],[3230,0.005],[3241,0.006],[3252,0.0],[3264,0.001],[3277,-0.003],[3291,-0.002],[3306,-0.006],[3322,-0.005],[3338,-0.008],
  [3347,0.017],[3353,0.012],[3360,0.014],[3368,0.007],[3376,0.009],[3385,0.002],[3395,0.004],[3405,-0.003],[3416,-0.002],[3427,-0.008],[3439,-0.007],[3452,-0.011],[3466,-0.01],[3481,-0.014],[3496,-0.013],[3508,-0.017],
  [3572,0.021],[3578,0.015],[3585,0.017],[3593,0.01],[3601,0.011],[3610,0.005],[3620,0.006],[3630,0.0],[3642,0.001],[3655,-0.003],[3670,-0.002],[3686,-0.005],[3702,-0.004],[3718,-0.006],[3734,-0.005],[3750,-0.007],[3766,-0.006],[3782,-0.008],[3798,-0.007],[3814,-0.009],[3828,-0.008],
  [1915,0.034],[1935,0.03],[2135,0.03],[2390,0.045],[2560,0.04],[2770,0.055],[2790,0.04],[2980,0.045],[3180,0.04],[3360,0.05],[3420,0.03],
];

const RED = "#ff2424";
const GREEN = "#2bef2b";
const INK = "#1c1c1c";
const TICK_COLOR = "#333";
const FONT = "'DejaVu Sans', sans-serif";
const FS = 23;

const PLOT_H = 319;
const PLOT_W_L = 462;
const PLOT_W_R = 459;

const rows = (pts: Pt[]) => pts.map(([t, v]) => ({ t, v }));

const isMajor = (v: number) => Math.abs(v * 10 - Math.round(v * 10)) < 1e-6;
const fmt1 = (v: number) => (Math.abs(v) < 1e-9 ? "0.0" : v.toFixed(1));

const RedDot = (p: any) => (
  <rect x={p.cx - 1.6} y={p.cy - 1.6} width={3.2} height={3.2} fill={RED} fillOpacity={0.9} />
);

const GreenPlus = (p: any) => (
  <path
    d={`M${p.cx - 6},${p.cy}H${p.cx + 6}M${p.cx},${p.cy - 6}V${p.cy + 6}`}
    stroke={GREEN}
    strokeWidth={2.4}
  />
);

// time axis tick: inward mark at bottom and top, label on the thousands
const makeTimeTick = () => (props: any) => {
  const { x, y, payload } = props;
  const v = payload.value;
  const major = v % 1000 === 0;
  const len = major ? 10 : 7;
  return (
    <g>
      <line x1={x} y1={y} x2={x} y2={y - len} stroke={TICK_COLOR} strokeWidth={1.6} />
      <line x1={x} y1={y - PLOT_H} x2={x} y2={y - PLOT_H + len} stroke={TICK_COLOR} strokeWidth={1.6} />
      {major && (
        <text x={x} y={y + 31} textAnchor="middle" fontFamily={FONT} fontSize={FS} fill={INK}>
          {v}
        </text>
      )}
    </g>
  );
};

const makeValueTick = (side: "left" | "right", plotW: number) => (props: any) => {
  const { x, y, payload } = props;
  const v = payload.value;
  const major = isMajor(v);
  const len = major ? 10 : 7;
  const dir = side === "left" ? 1 : -1;
  const other = x + dir * plotW;
  return (
    <g>
      <line x1={x} y1={y} x2={x + dir * len} y2={y} stroke={TICK_COLOR} strokeWidth={1.6} />
      <line x1={other} y1={y} x2={other - dir * len} y2={y} stroke={TICK_COLOR} strokeWidth={1.6} />
      {major && (
        <text
          x={side === "left" ? x - 13 : x + 7}
          y={y}
          dy="0.36em"
          textAnchor={side === "left" ? "end" : "start"}
          fontFamily={FONT}
          fontSize={FS}
          fill={INK}
        >
          {fmt1(v)}
        </text>
      )}
    </g>
  );
};

const timeLabel = (props: any) => {
  const vb = props.viewBox || {};
  return (
    <text x={vb.x + vb.width / 2} y={vb.y + 75} textAnchor="middle" fontFamily={FONT} fontSize={FS} fill={INK}>
      Time (ms)
    </text>
  );
};

const valueLabel = (text: string, dx: number) => (props: any) => {
  const vb = props.viewBox || {};
  const cx = vb.x + dx;
  const cy = vb.y + vb.height / 2;
  return (
    <text
      x={cx}
      y={cy}
      transform={`rotate(-90 ${cx} ${cy})`}
      textAnchor="middle"
      dominantBaseline="central"
      fontFamily={FONT}
      fontSize={FS}
      fill={INK}
    >
      {text}
    </text>
  );
};

const titleStyle = (left: number, width: number): React.CSSProperties => ({
  position: "absolute",
  left,
  width,
  top: 4,
  height: 34,
  lineHeight: "34px",
  textAlign: "center",
  fontFamily: FONT,
  fontSize: 25,
  color: INK,
});

const legendText: React.CSSProperties = {
  position: "absolute",
  left: 370,
  height: 30,
  lineHeight: "30px",
  fontFamily: FONT,
  fontSize: FS,
  color: INK,
  whiteSpace: "nowrap",
};

export default function App() {
  const linL = rows(P66_LIN);
  const quadL = rows(P66_QUAD);
  const linR = rows(P67_LIN);
  const quadR = rows(P67_QUAD);

  return (
    <div style={{ position: "absolute", left: 0, top: 0, width: 1203, height: 462, background: "#fff" }}>
      <div style={{ position: "absolute", left: 0, top: 0 }}>
        <ScatterChart width={600} height={462} margin={{ top: 58, right: 33, bottom: 0, left: 0 }}>
          <XAxis
            dataKey="t"
            type="number"
            domain={[0, 4000]}
            ticks={TIME_TICKS}
            interval={0}
            tickSize={0}
            tickMargin={0}
            axisLine={false}
            tickLine={false}
            height={85}
            tick={makeTimeTick()}
            allowDataOverflow
          >
            <Label content={timeLabel} />
          </XAxis>
          <YAxis
            dataKey="v"
            type="number"
            domain={[-0.2, 0.2]}
            ticks={LIN_TICKS}
            interval={0}
            tickSize={0}
            tickMargin={0}
            axisLine={false}
            tickLine={false}
            width={105}
            tick={makeValueTick("left", PLOT_W_L)}
            allowDataOverflow
          >
            <Label content={valueLabel("Lin. Resid. (µm)", 24)} />
          </YAxis>
          <Scatter data={linL} shape={RedDot} isAnimationActive={false} />
          <Scatter data={quadL} shape={GreenPlus} isAnimationActive={false} />
          <ReferenceArea x1={0} x2={4000} y1={-0.2} y2={0.2} fill="none" fillOpacity={0} stroke="#111" strokeWidth={2} />
        </ScatterChart>
        <div style={titleStyle(105, PLOT_W_L)}>P66</div>
        <svg style={{ position: "absolute", left: 310, top: 302 }} width={16} height={60}>
          <rect x={7} y={7} width={2} height={4} fill={RED} />
          <path d="M2,52H14M8,46V58" stroke={GREEN} strokeWidth={2} />
        </svg>
        <div style={{ ...legendText, top: 295 }}>Lin. Resid.</div>
        <div style={{ ...legendText, top: 338 }}>Quadr. Resid.</div>
      </div>

      <div style={{ position: "absolute", left: 600, top: 0 }}>
        <ScatterChart width={603} height={462} margin={{ top: 58, right: 0, bottom: 0, left: 27 }}>
          <XAxis
            dataKey="t"
            type="number"
            domain={[0, 4000]}
            ticks={TIME_TICKS}
            interval={0}
            tickSize={0}
            tickMargin={0}
            axisLine={false}
            tickLine={false}
            height={85}
            tick={makeTimeTick()}
            allowDataOverflow
          >
            <Label content={timeLabel} />
          </XAxis>
          <YAxis
            dataKey="v"
            type="number"
            orientation="right"
            domain={[-0.3, 0.1]}
            ticks={QUAD_TICKS}
            interval={0}
            tickSize={0}
            tickMargin={0}
            axisLine={false}
            tickLine={false}
            width={117}
            tick={makeValueTick("right", PLOT_W_R)}
            allowDataOverflow
          >
            <Label content={valueLabel("Quadr. Resid. (µm)", 96)} />
          </YAxis>
          <Scatter data={linR} shape={RedDot} isAnimationActive={false} />
          <Scatter data={quadR} shape={GreenPlus} isAnimationActive={false} />
          <ReferenceArea x1={0} x2={4000} y1={-0.3} y2={0.1} fill="none" fillOpacity={0} stroke="#111" strokeWidth={2} />
        </ScatterChart>
        <div style={titleStyle(27, PLOT_W_R)}>P67</div>
      </div>
    </div>
  );
}
